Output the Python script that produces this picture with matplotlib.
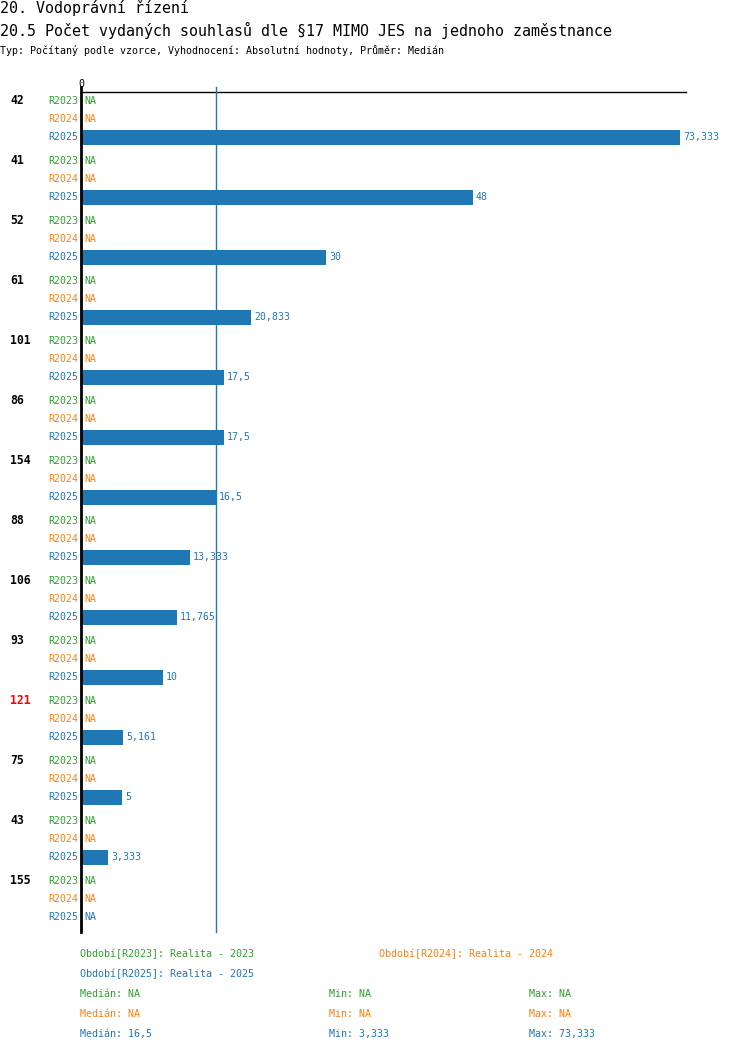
import numpy as np
import matplotlib
matplotlib.use("Agg")
import matplotlib.pyplot as plt
from matplotlib.transforms import blended_transform_factory

# data
groups = ["42", "41", "52", "61", "101", "86", "154", "88", "106", "93", "121", "75", "43", "155"]
highlight = ["121"]
periods = ["R2023", "R2024", "R2025"]
r2023 = [None] * len(groups)
r2024 = [None] * len(groups)
r2025 = [73.333, 48, 30, 20.833, 17.5, 17.5, 16.5, 13.333, 11.765, 10, 5.161, 5, 3.333, None]
legend_names = ["Období[R2023]: Realita - 2023",
                "Období[R2024]: Realita - 2024",
                "Období[R2025]: Realita - 2025"]

colors = ["#2ca02c", "#ff7f0e", "#1f77b4"]
FONT = "DejaVu Sans Mono"
W, H = 750, 1052


def fmt(v):
    if v is None:
        return "NA"
    return f"{v:g}".replace(".", ",")


def px(x, y):
    return x / W, 1 - y / H


fig = plt.figure(figsize=(W / 100, H / 100), dpi=100)
plt.rcParams["font.family"] = FONT

ax_top, ax_bot, ax_left, ax_right = 92, 932, 81, 686
ax = fig.add_axes([ax_left / W, 1 - ax_bot / H, (ax_right - ax_left) / W, (ax_bot - ax_top) / H])

# header
fig.text(*px(0, 8), "20. Vodoprávní řízení", fontsize=10.8, va="center", ha="left")
fig.text(*px(0, 30), "20.5 Počet vydaných souhlasů dle §17 MIMO JES na jednoho zaměstnance",
         fontsize=10.8, va="center", ha="left")
fig.text(*px(0, 50), "Typ: Počítaný podle vzorce, Vyhodnocení: Absolutní hodnoty, Průměr: Medián",
         fontsize=7.2, va="center", ha="left")

series = [r2023, r2024, r2025]
row_gap, group_gap, bar_h = 18, 60, 15
label_tr = blended_transform_factory(fig.transFigure, ax.transData)

for i, g in enumerate(groups):
    base = i * group_gap
    ax.text(10 / W, base, g, transform=label_tr, fontsize=8.3, fontweight="bold",
            color="red" if g in highlight else "black", va="center", ha="left")
    for j, (name, vals) in enumerate(zip(periods, series)):
        y = base + j * row_gap
        v = vals[i]
        ax.annotate(name, xy=(0, y), xytext=(-3, 0), textcoords="offset pixels",
                    fontsize=7.1, color=colors[j], va="center", ha="right")
        if v is not None:
            ax.barh(y, v, height=bar_h, color=colors[j])
        ax.annotate(fmt(v), xy=(v or 0, y), xytext=(3, 0), textcoords="offset pixels",
                    fontsize=7.1, color=colors[j], va="center", ha="left")

vals25 = [v for v in r2025 if v is not None]
med = float(np.median(vals25))

n_last = (len(groups) - 1) * group_gap + 2 * row_gap
ax.set_ylim(n_last + 15, -9)
ax.set_xlim(0, max(vals25) / 0.99)
for s in ax.spines.values():
    s.set_visible(False)
ax.set_yticks([])
ax.xaxis.tick_top()
ax.set_xticks([0])
ax.set_xticklabels(["0"])
ax.tick_params(axis="x", length=0, pad=2, labelsize=7.2)

ext = 1 + 5 / (ax_bot - ax_top)
ax.axhline(-9, color="black", lw=1.0, clip_on=False)
ax.axvline(0, ymin=0, ymax=ext, color="black", lw=2.0, clip_on=False)
ax.axvline(med, ymin=0, ymax=ext, color=colors[2], lw=1.0, clip_on=False)

# legend block
fig.text(*px(80, 954), legend_names[0], fontsize=7.2, color=colors[0], va="center")
fig.text(*px(379, 954), legend_names[1], fontsize=7.2, color=colors[1], va="center")
fig.text(*px(80, 974), legend_names[2], fontsize=7.2, color=colors[2], va="center")

for j, vals in enumerate(series):
    vv = [v for v in vals if v is not None]
    m = fmt(float(np.median(vv))) if vv else "NA"
    lo = fmt(min(vv)) if vv else "NA"
    hi = fmt(max(vv)) if vv else "NA"
    y = 994 + j * 20
    fig.text(*px(80, y), f"Medián: {m}", fontsize=7.2, color=colors[j], va="center")
    fig.text(*px(329, y), f"Min: {lo}", fontsize=7.2, color=colors[j], va="center")
    fig.text(*px(529, y), f"Max: {hi}", fontsize=7.2, color=colors[j], va="center")

fig.savefig("out.png", dpi=100)
